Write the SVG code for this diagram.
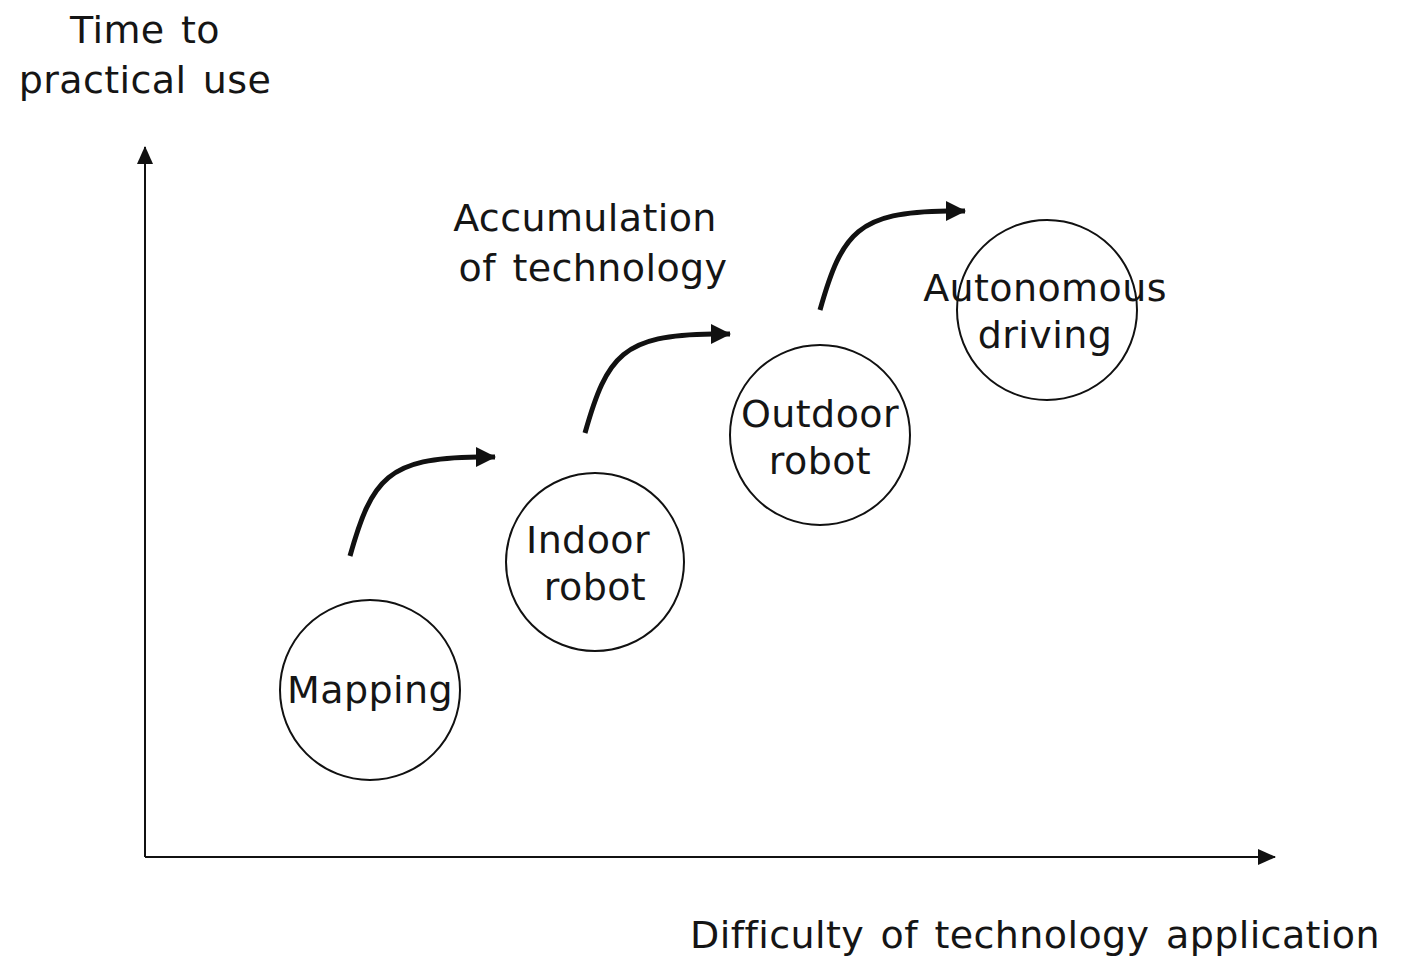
<svg xmlns="http://www.w3.org/2000/svg" width="1411" height="957" viewBox="0 0 1411 957">
<style>
text{font-family:"DejaVu Sans","Noto Sans",sans-serif;font-size:38px;letter-spacing:0.4px;word-spacing:4px;fill:#151515;text-anchor:middle}
.node circle{fill:none;stroke:#111;stroke-width:2}
.axis{stroke:#111;stroke-width:2;fill:none}
.flow{stroke:#111;stroke-width:5;fill:none}
</style>
<defs>
<marker id="ah2" markerWidth="20" markerHeight="20" refX="19" refY="10" orient="auto" markerUnits="userSpaceOnUse"><path d="M0,0L20,10L0,20Z" fill="#111"/></marker>
<marker id="ah3" markerWidth="18" markerHeight="16" refX="17" refY="8" orient="auto" markerUnits="userSpaceOnUse"><path d="M0,0L18,8L0,16Z" fill="#111"/></marker>
</defs>
<g id="connectors">
<line class="axis" x1="145" y1="857" x2="145" y2="147" marker-end="url(#ah3)"/>
<line class="axis" x1="145" y1="857" x2="1275" y2="857" marker-end="url(#ah3)"/>
<path class="flow" d="M350,556 C372,478 388,458 478,457 L495,457" marker-end="url(#ah2)" />
<path class="flow" d="M585,433 C607,355 623,335 713,334 L730,334" marker-end="url(#ah2)" />
<path class="flow" d="M820,310 C842,232 858,212 948,211 L965,211" marker-end="url(#ah2)" />
</g>
<g id="axis-labels">
<text x="145" y="43">Time to</text>
<text x="145" y="93">practical use</text>
<text x="1035" y="948">Difficulty of technology application</text>
<text x="585" y="231">Accumulation</text>
<text x="593" y="281">of technology</text>
</g>
<g id="mapping" class="node"><circle cx="370" cy="690" r="90"/><text x="370" y="703">Mapping</text></g>
<g id="indoor" class="node"><circle cx="595" cy="562" r="89"/><text x="588" y="553">Indoor</text><text x="595" y="600">robot</text></g>
<g id="outdoor" class="node"><circle cx="820" cy="435" r="90"/><text x="820" y="427">Outdoor</text><text x="820" y="474">robot</text></g>
<g id="autonomous" class="node"><circle cx="1047" cy="310" r="90"/><text x="1045" y="301">Autonomous</text><text x="1045" y="348">driving</text></g>
</svg>
